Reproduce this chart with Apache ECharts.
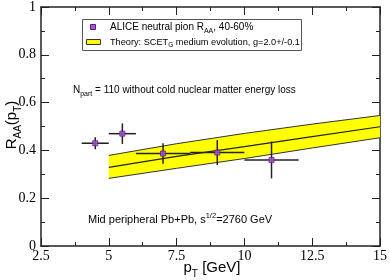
<!DOCTYPE html>
<html>
<head>
<meta charset="utf-8">
<script src="https://cdn.jsdelivr.net/npm/echarts@6/dist/echarts.min.js"></script>
<style>html,body{margin:0;padding:0;background:#fff}#c{width:390px;height:280px}</style>
</head>
<body>
<div id="c"></div>
<script>
// ALICE data
var dataX = [4.5, 5.5, 7, 9, 11];
var dataY = [0.43, 0.47, 0.387, 0.391, 0.36];
var dataXLow = [4, 5, 6, 8, 10];
var dataXHigh = [5, 6, 8, 10, 12];
var dataYErr = [0.025, 0.043, 0.043, 0.052, 0.077];
// Theory band
var bandX = [5, 7.5, 10, 12.5, 15];
var bandCenter = [0.329, 0.375, 0.416, 0.458, 0.499];
var bandUpper = [0.379, 0.428, 0.471, 0.510, 0.546];
var bandLower = [0.283, 0.325, 0.366, 0.410, 0.453];
// axis ticks
var xTicks = [2.5, 5, 7.5, 10, 12.5, 15];
var yTicks = [0, 0.2, 0.4, 0.6, 0.8, 1];

var chart = echarts.init(document.getElementById('c'), null, {renderer: 'canvas'});
function pairs(xs, ys) { return xs.map(function (x, i) { return [x, ys[i]]; }); }
var axisLineStyle = {color: '#222', width: 1.5};
var serif = 'Liberation Serif';
var sans = 'Liberation Sans';
function xAxisDef(pos, showLabel) {
  return {
    type: 'value', position: pos, min: xTicks[0], max: xTicks[xTicks.length - 1], interval: 2.5,
    axisLine: {show: true, onZero: false, lineStyle: axisLineStyle},
    axisTick: {show: true, inside: true, length: 8, lineStyle: {color: '#222', width: 1}},
    minorTick: {show: true, splitNumber: 2, length: 4, lineStyle: {color: '#222', width: 1}},
    splitLine: {show: false},
    axisLabel: {show: showLabel, margin: 3, fontFamily: serif, fontSize: 14, color: '#000'}
  };
}
function yAxisDef(pos, showLabel) {
  return {
    type: 'value', position: pos, min: yTicks[0], max: yTicks[yTicks.length - 1], interval: 0.2,
    axisLine: {show: true, onZero: false, lineStyle: axisLineStyle},
    axisTick: {show: true, inside: true, length: 8, lineStyle: {color: '#222', width: 1}},
    minorTick: {show: true, splitNumber: 2, length: 4, lineStyle: {color: '#222', width: 1}},
    splitLine: {show: false},
    axisLabel: {show: showLabel, margin: 5, fontFamily: serif, fontSize: 14, color: '#000'}
  };
}
var errData = dataX.map(function (x, i) { return [x, dataY[i], dataXLow[i], dataXHigh[i], dataYErr[i]]; });
function rich(sz, subSz) {
  return {
    n: {fontFamily: sans, fontSize: sz, lineHeight: sz * 1.5, verticalAlign: 'middle', fill: '#000'},
    sub: {fontFamily: sans, fontSize: subSz, lineHeight: subSz, verticalAlign: 'bottom', fill: '#000'},
    sup: {fontFamily: sans, fontSize: subSz, lineHeight: subSz, verticalAlign: 'top', fill: '#000'}
  };
}

var option = {
  animation: false,
  backgroundColor: '#fff',
  grid: {left: 41, right: 7, top: 5, bottom: 34},
  xAxis: [xAxisDef('bottom', true), xAxisDef('top', false)],
  yAxis: [yAxisDef('left', true), yAxisDef('right', false)],
  series: [
    {type: 'custom', z: 1, data: [0], clip: true,
     renderItem: function (params, api) {
       var pts = [];
       for (var i = 0; i < bandX.length; i++) pts.push(api.coord([bandX[i], bandUpper[i]]));
       for (var j = bandX.length - 1; j >= 0; j--) pts.push(api.coord([bandX[j], bandLower[j]]));
       return {type: 'polygon', shape: {points: pts}, style: {fill: '#ffff00', stroke: null}};
     }},
    {type: 'line', data: pairs(bandX, bandUpper), symbol: 'none', lineStyle: {color: '#333', width: 1}, z: 2},
    {type: 'line', data: pairs(bandX, bandLower), symbol: 'none', lineStyle: {color: '#333', width: 1}, z: 2},
    {type: 'line', data: pairs(bandX, bandCenter), symbol: 'none', lineStyle: {color: '#222', width: 1.2}, z: 2},
    {type: 'custom', z: 3, data: errData,
     renderItem: function (params, api) {
       var x = api.value(0), y = api.value(1);
       var pL = api.coord([api.value(2), y]);
       var pR = api.coord([api.value(3), y]);
       var pT = api.coord([x, y + api.value(4)]);
       var pB = api.coord([x, y - api.value(4)]);
       var st = {stroke: '#222', lineWidth: 1.5};
       return {type: 'group', children: [
         {type: 'line', shape: {x1: pL[0], y1: pL[1], x2: pR[0], y2: pR[1]}, style: st},
         {type: 'line', shape: {x1: pT[0], y1: pT[1], x2: pB[0], y2: pB[1]}, style: st}
       ]};
     }},
    {type: 'scatter', data: pairs(dataX, dataY), symbol: 'rect', symbolSize: 5,
     itemStyle: {color: '#b050e0', borderColor: '#5a2080', borderWidth: 1}, z: 4}
  ],
  graphic: [
    {type: 'rect', shape: {x: 82.5, y: 19.5, width: 219, height: 31},
     style: {fill: '#fff', stroke: '#555', lineWidth: 1}, z: 10},
    {type: 'rect', shape: {x: 90.5, y: 24.5, width: 5, height: 5},
     style: {fill: '#b050e0', stroke: '#5a2080', lineWidth: 1}, z: 11},
    {type: 'rect', shape: {x: 86.5, y: 39.5, width: 14, height: 5},
     style: {fill: '#ffff00', stroke: '#333', lineWidth: 1}, z: 11},
    {type: 'text', x: 110, y: 27, z: 11, style: {
      text: '{n|ALICE neutral pion R}{sub|AA}{n|, 40-60%}',
      verticalAlign: 'middle', align: 'left', rich: rich(10, 7)}},
    {type: 'text', x: 110, y: 42, z: 11, style: {
      text: '{n|Theory: SCET}{sub|G}{n| medium evolution, g=2.0+/-0.1}',
      verticalAlign: 'middle', align: 'left', rich: rich(9.2, 6.5)}},
    {type: 'text', x: 73, y: 90, z: 11, style: {
      text: '{n|N}{sub|part}{n| = 110 without cold nuclear matter energy loss}',
      verticalAlign: 'middle', align: 'left', rich: rich(10, 7)}},
    {type: 'text', x: 88, y: 220, z: 11, style: {
      text: '{n|Mid peripheral Pb+Pb, s}{sup|1/2}{n|=2760 GeV}',
      verticalAlign: 'middle', align: 'left', rich: rich(11, 7.5)}},
    {type: 'text', x: 212, y: 268, z: 11, style: {
      text: '{n|p}{sub|T}{n| [GeV]}',
      verticalAlign: 'middle', align: 'center', rich: rich(15, 10)}},
    {type: 'text', x: 12, y: 125, rotation: Math.PI / 2, z: 11, style: {
      text: '{n|R}{sub|AA}{n|(p}{sub|T}{n|)}',
      verticalAlign: 'middle', align: 'center', rich: rich(15, 10)}}
  ]
};
chart.setOption(option);
</script>
</body>
</html>
